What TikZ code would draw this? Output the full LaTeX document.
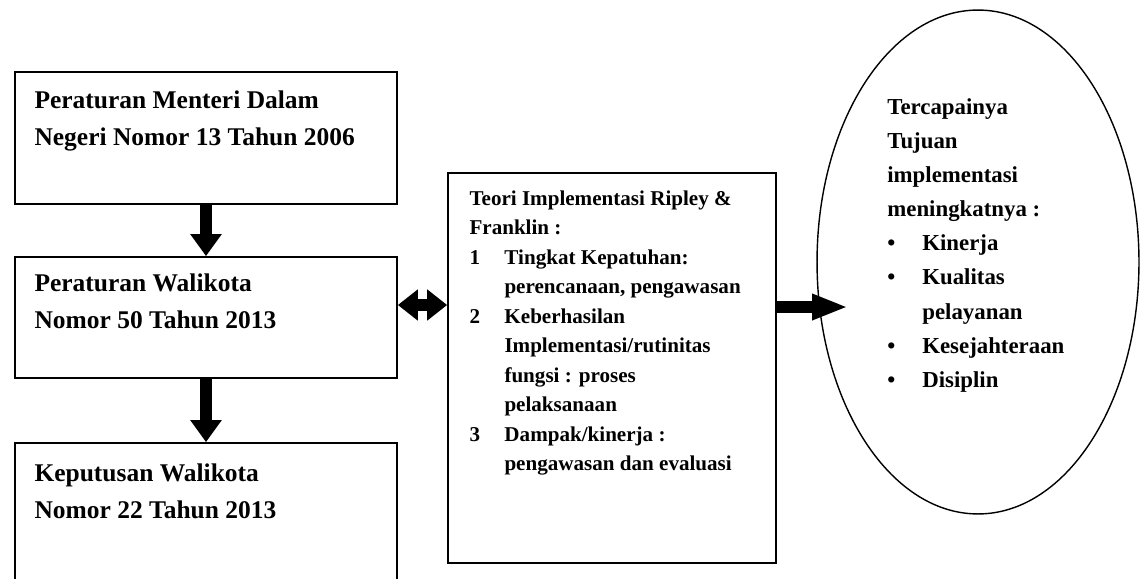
\documentclass[tikz,border=0pt]{standalone}
\usepackage{fontspec}
\setmainfont{Liberation Serif}
\usetikzlibrary{arrows.meta,positioning,shapes.geometric}

\tikzset{
    lawbox/.style={draw, line width=1pt, minimum width=7.64cm, inner sep=0pt},
    lawtext/.style={anchor=north west, inner sep=0pt, align=left, font=\bfseries\fontsize{14.5}{21}\selectfont},
    theorytext/.style={anchor=north west, inner sep=0pt, align=left, font=\bfseries\fontsize{12}{16.8}\selectfont},
    goaltext/.style={anchor=north west, inner sep=0pt, align=left, font=\bfseries\fontsize{13}{19.4}\selectfont},
    downarrow/.style={line width=6.8pt, -{Triangle[length=0.44cm,width=0.6cm]}},
    twinarrow/.style={line width=6.8pt, {Triangle[length=0.4cm,width=0.6cm]}-{Triangle[length=0.4cm,width=0.6cm]}},
    rightarrow/.style={line width=6.8pt, -{Triangle[length=0.72cm,width=0.48cm]}},
}

\begin{document}
\begin{tikzpicture}[x=0.02cm, y=-0.02cm]
        \useasboundingbox (0,0) rectangle (1145,578);
        \clip (0,0) rectangle (1145,578);
    %Boxes
        \node[lawbox, minimum height=2.64cm] (permen) at (206,138) {};
        \node[lawbox, minimum height=2.42cm] (perwal) at (206,317.5) {};
        \node[lawbox, minimum height=3cm] (kepwal) at (206,518) {};
        \node[draw, line width=1pt, minimum width=6.56cm, minimum height=7.8cm, inner sep=0pt] (teori) at (612,368) {};
        \node[draw, ellipse, line width=0.8pt, minimum width=6.44cm, minimum height=10.08cm, inner sep=0pt] (goal) at (978,262) {};
    %Texts
        \node[lawtext] (permentext) at ([shift={(20,19)}]permen.north west) {Peraturan Menteri Dalam\\Negeri Nomor 13 Tahun 2006};
        \node[lawtext] (perwaltext) at ([shift={(20,17)}]perwal.north west) {Peraturan Walikota\\Nomor 50 Tahun 2013};
        \node[lawtext] (kepwaltext) at ([shift={(20,21)}]kepwal.north west) {Keputusan Walikota\\Nomor 22 Tahun 2013};
        \node[theorytext] (teoritext) at ([shift={(22,18)}]teori.north west) {Teori Implementasi Ripley \&\\
            Franklin :\\
            \makebox[0.7cm][l]{1}Tingkat Kepatuhan:\\
            \hspace*{0.7cm}perencanaan, pengawasan\\
            \makebox[0.7cm][l]{2}Keberhasilan\\
            \hspace*{0.7cm}Implementasi/rutinitas\\
            \hspace*{0.7cm}fungsi : proses\\
            \hspace*{0.7cm}pelaksanaan\\
            \makebox[0.7cm][l]{3}Dampak/kinerja :\\
            \hspace*{0.7cm}pengawasan dan evaluasi};
        \node[goaltext] (goaltext) at ([shift={(-91,89)}]goal.north) {Tercapainya\\
            Tujuan\\
            implementasi\\
            meningkatnya :\\
            \makebox[0.7cm][l]{\textbullet}Kinerja\\
            \makebox[0.7cm][l]{\textbullet}Kualitas\\
            \hspace*{0.7cm}pelayanan\\
            \makebox[0.7cm][l]{\textbullet}Kesejahteraan\\
            \makebox[0.7cm][l]{\textbullet}Disiplin};
    %Arrows
        \draw[downarrow] (permen.south) -- (perwal.north);
        \draw[downarrow] (perwal.south) -- (kepwal.north);
        \draw[twinarrow] ([yshift=0.25cm]perwal.east) -- ([yshift=0.25cm]perwal.east -| teori.west);
        \coordinate (goaltip) at (848,307);
        \draw[rightarrow] (teori.east |- goaltip) -- (goaltip);
    \end{tikzpicture}
\end{document}
